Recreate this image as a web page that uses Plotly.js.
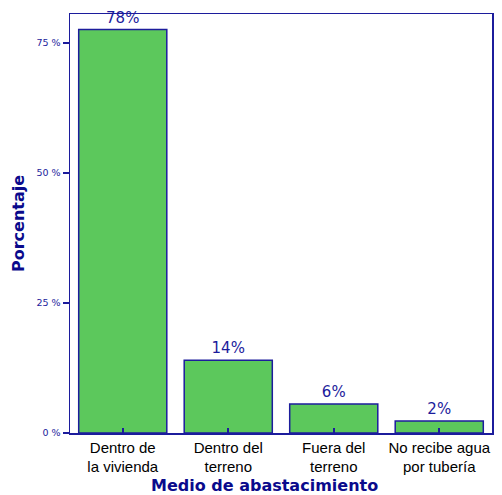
<!DOCTYPE html>
<html><head><meta charset="utf-8">
<script src="https://cdn.plot.ly/plotly-3.0.1.min.js"></script>
<style>html,body{margin:0;padding:0;background:#fff}#chart{width:502px;height:495px}</style>
</head><body><div id="chart"></div>
<script>
const categories = ["Dentro de<br>la vivienda", "Dentro del<br>terreno", "Fuera del<br>terreno", "No recibe agua<br>por tubería"];
const values = [77.6, 14.0, 5.6, 2.3];
const valueLabels = ["78%", "14%", "6%", "2%"];
const yTickVals = [0, 25, 50, 75];
const yTickText = ["0 %", "25 %", "50 %", "75 %"];

const navy = "#1c1c9c";
const trace = {
  type: "bar",
  x: categories,
  y: values,
  text: valueLabels,
  textposition: "outside",
  textfont: {family: "DejaVu Sans, sans-serif", size: 15, color: navy},
  cliponaxis: false,
  marker: {color: "#5cc85c", line: {color: navy, width: 1.5}},
  hoverinfo: "skip"
};
const layout = {
  width: 502, height: 495,
  margin: {l: 70, r: 10, t: 14, b: 62},
  paper_bgcolor: "#fff", plot_bgcolor: "#fff",
  bargap: 0.165,
  showlegend: false,
  xaxis: {
    type: "category",
    showline: true, linecolor: navy, linewidth: 1.5, mirror: true,
    ticks: "inside", ticklen: 5, tickwidth: 2, tickcolor: navy,
    tickfont: {family: "Liberation Sans, Arial, sans-serif", size: 15, color: "#000"},
    showgrid: false, zeroline: false
  },
  yaxis: {
    range: [0, 80.6],
    tickvals: yTickVals, ticktext: yTickText,
    showline: true, linecolor: navy, linewidth: 1.5, mirror: true,
    ticks: "outside", ticklen: 6, tickwidth: 2, tickcolor: navy,
    tickfont: {family: "DejaVu Sans, sans-serif", size: 9.5, color: navy},
    showgrid: false, zeroline: false,
    title: {text: "<b>Porcentaje</b>", standoff: 8, font: {family: "DejaVu Sans, sans-serif", size: 16, color: "#0a0a8c"}}
  },
  annotations: [{
    text: "<b>Medio de abastacimiento</b>", xref: "paper", yref: "paper",
    x: 0.46, y: 0, xanchor: "center", yanchor: "top", yshift: -41, showarrow: false,
    font: {family: "DejaVu Sans, sans-serif", size: 16, color: "#0a0a8c"}
  }]
};
Plotly.newPlot("chart", [trace], layout, {displayModeBar: false, staticPlot: true});
</script></body></html>
